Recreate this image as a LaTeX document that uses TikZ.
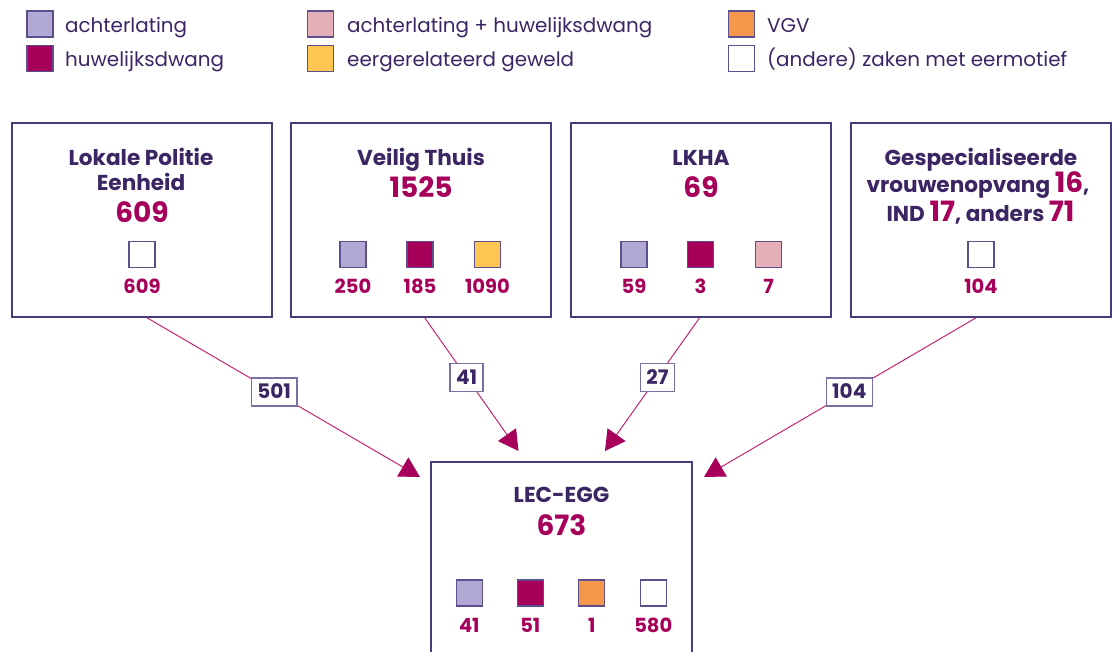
\documentclass[tikz,border=0pt]{standalone}
\usepackage{fontspec}
\setmainfont{Poppins}
\usetikzlibrary{arrows.meta,calc}
\definecolor{ink}{HTML}{3B2563}
\definecolor{mag}{HTML}{A6005A}
\definecolor{conncol}{HTML}{C42673}
\definecolor{boxline}{HTML}{4A3A7C}
\definecolor{swline}{HTML}{5E4E8E}
\definecolor{lblline}{HTML}{7C6EA3}
\definecolor{lav}{HTML}{B1A9D3}
\definecolor{rose}{HTML}{E4AFB9}
\definecolor{yel}{HTML}{FFC653}
\definecolor{ora}{HTML}{F4974A}
\newcommand{\bn}[1]{{\color{mag}\fontsize{28}{30}\selectfont #1}}
\begin{document}
\begin{tikzpicture}[x=1pt,y=-1pt,
  bigbox/.style={draw=boxline,line width=1.6pt,fill=white,minimum width=260pt,minimum height=194pt,inner sep=0pt},
  swatch/.style={draw=swline,line width=1.2pt,minimum size=26pt,inner sep=0pt},
  legtxt/.style={anchor=base west,inner sep=0pt,text=ink,font=\fontsize{19.9}{22}\selectfont},
  ttl/.style={anchor=base,inner sep=0pt,text=ink,font=\fontsize{21.6}{24}\selectfont\bfseries},
  bignum/.style={anchor=base,inner sep=0pt,text=mag,font=\fontsize{28}{30}\selectfont\bfseries},
  smallnum/.style={anchor=base,inner sep=0pt,text=mag,font=\fontsize{19.5}{22}\selectfont\bfseries},
  lbl/.style={draw=lblline,line width=1.2pt,fill=white,text=ink,font=\fontsize{20}{22}\selectfont\bfseries,inner xsep=6pt,inner ysep=0pt,minimum height=28pt,text height=14pt,text depth=0pt},
  conn/.style={draw=conncol,line width=1pt,-{Triangle[length=20pt,width=22pt,color=mag]}}
]
\useasboundingbox (0,0) rectangle (1114,651);
\clip (0,0) rectangle (1114,651);

% legend
\node[swatch,fill=lav] (lg1) at (40,24) {};
\node[legtxt] (lt1) at (65,32) {achterlating};
\node[swatch,fill=mag] (lg2) at (40,58.5) {};
\node[legtxt] (lt2) at (65,66) {huwelijksdwang};
\node[swatch,fill=rose] (lg3) at (320.5,24) {};
\node[legtxt] (lt3) at (347,32) {achterlating + huwelijksdwang};
\node[swatch,fill=yel] (lg4) at (320.5,58.5) {};
\node[legtxt] (lt4) at (347,66) {eergerelateerd geweld};
\node[swatch,fill=ora] (lg5) at (741.5,24) {};
\node[legtxt] (lt5) at (767,32) {VGV};
\node[swatch,fill=white] (lg6) at (741.5,58.5) {};
\node[legtxt] (lt6) at (767,66) {(andere) zaken met eermotief};

% boxes
\node[bigbox] (b1) at (142,220) {};
\node[bigbox] (b2) at (421,220) {};
\node[bigbox] (b3) at (701,220) {};
\node[bigbox] (b4) at (981,220) {};
\node[bigbox,minimum width=261pt,minimum height=230pt] (b5) at (561.5,577) {};

% box 1
\node[ttl] (b1a) at (141,165) {Lokale Politie};
\node[ttl] (b1b) at (141,190) {Eenheid};
\node[bignum] (b1n) at (142,222) {609};
\node[swatch,fill=white] (b1s1) at (142,254.7) {};
\node[smallnum] (b1v1) at (142,293) {609};

% box 2
\node[ttl] (b2a) at (421,165) {Veilig Thuis};
\node[bignum] (b2n) at (421,197) {1525};
\node[swatch,fill=lav] (b2s1) at (353,254.7) {};
\node[swatch,fill=mag] (b2s2) at (420,254.7) {};
\node[swatch,fill=yel] (b2s3) at (487.5,254.7) {};
\node[smallnum] (b2v1) at (353,293) {250};
\node[smallnum] (b2v2) at (420,293) {185};
\node[smallnum] (b2v3) at (487.5,293) {1090};

% box 3
\node[ttl] (b3a) at (701,165) {LKHA};
\node[bignum] (b3n) at (701,197) {69};
\node[swatch,fill=lav] (b3s1) at (634,254.7) {};
\node[swatch,fill=mag] (b3s2) at (700.5,254.7) {};
\node[swatch,fill=rose] (b3s3) at (768.5,254.7) {};
\node[smallnum] (b3v1) at (634,293) {59};
\node[smallnum] (b3v2) at (700.5,293) {3};
\node[smallnum] (b3v3) at (768.5,293) {7};

% box 4
\node[ttl] (b4a) at (981,165) {Gespecialiseerde};
\node[ttl] (b4b) at (978,192) {vrouwenopvang \bn{16},};
\node[ttl] (b4c) at (980.5,221) {IND \bn{17}, anders \bn{71}};
\node[swatch,fill=white] (b4s1) at (981,254.7) {};
\node[smallnum] (b4v1) at (981,293) {104};

% bottom box
\node[ttl] (b5a) at (561.5,502.5) {LEC-EGG};
\node[bignum] (b5n) at (561.5,535) {673};
\node[swatch,fill=lav] (b5s1) at (469.3,593) {};
\node[swatch,fill=mag] (b5s2) at (530.3,593) {};
\node[swatch,fill=ora] (b5s3) at (591.7,593) {};
\node[swatch,fill=white] (b5s4) at (653.3,593) {};
\node[smallnum] (b5v1) at (469.3,632.7) {41};
\node[smallnum] (b5v2) at (530.3,632.7) {51};
\node[smallnum] (b5v3) at (591.7,632.7) {1};
\node[smallnum] (b5v4) at (653.3,632.7) {580};

% connectors
\coordinate (t1) at (420,477);
\coordinate (t2) at (518.5,451);
\coordinate (t3) at (605,451);
\coordinate (t4) at (704,477);
\draw[conn] ([xshift=5pt]b1.south) -- node[lbl,pos=0.466] (e1) {501} (t1);
\draw[conn] ([xshift=3.7pt]b2.south) -- node[lbl,pos=0.446] (e2) {41} (t2);
\draw[conn] ([xshift=-1.4pt]b3.south) -- node[lbl,pos=0.446] (e3) {27} (t3);
\draw[conn] ([xshift=-5pt]b4.south) -- node[lbl,pos=0.466] (e4) {104} (t4);
\end{tikzpicture}
\end{document}
